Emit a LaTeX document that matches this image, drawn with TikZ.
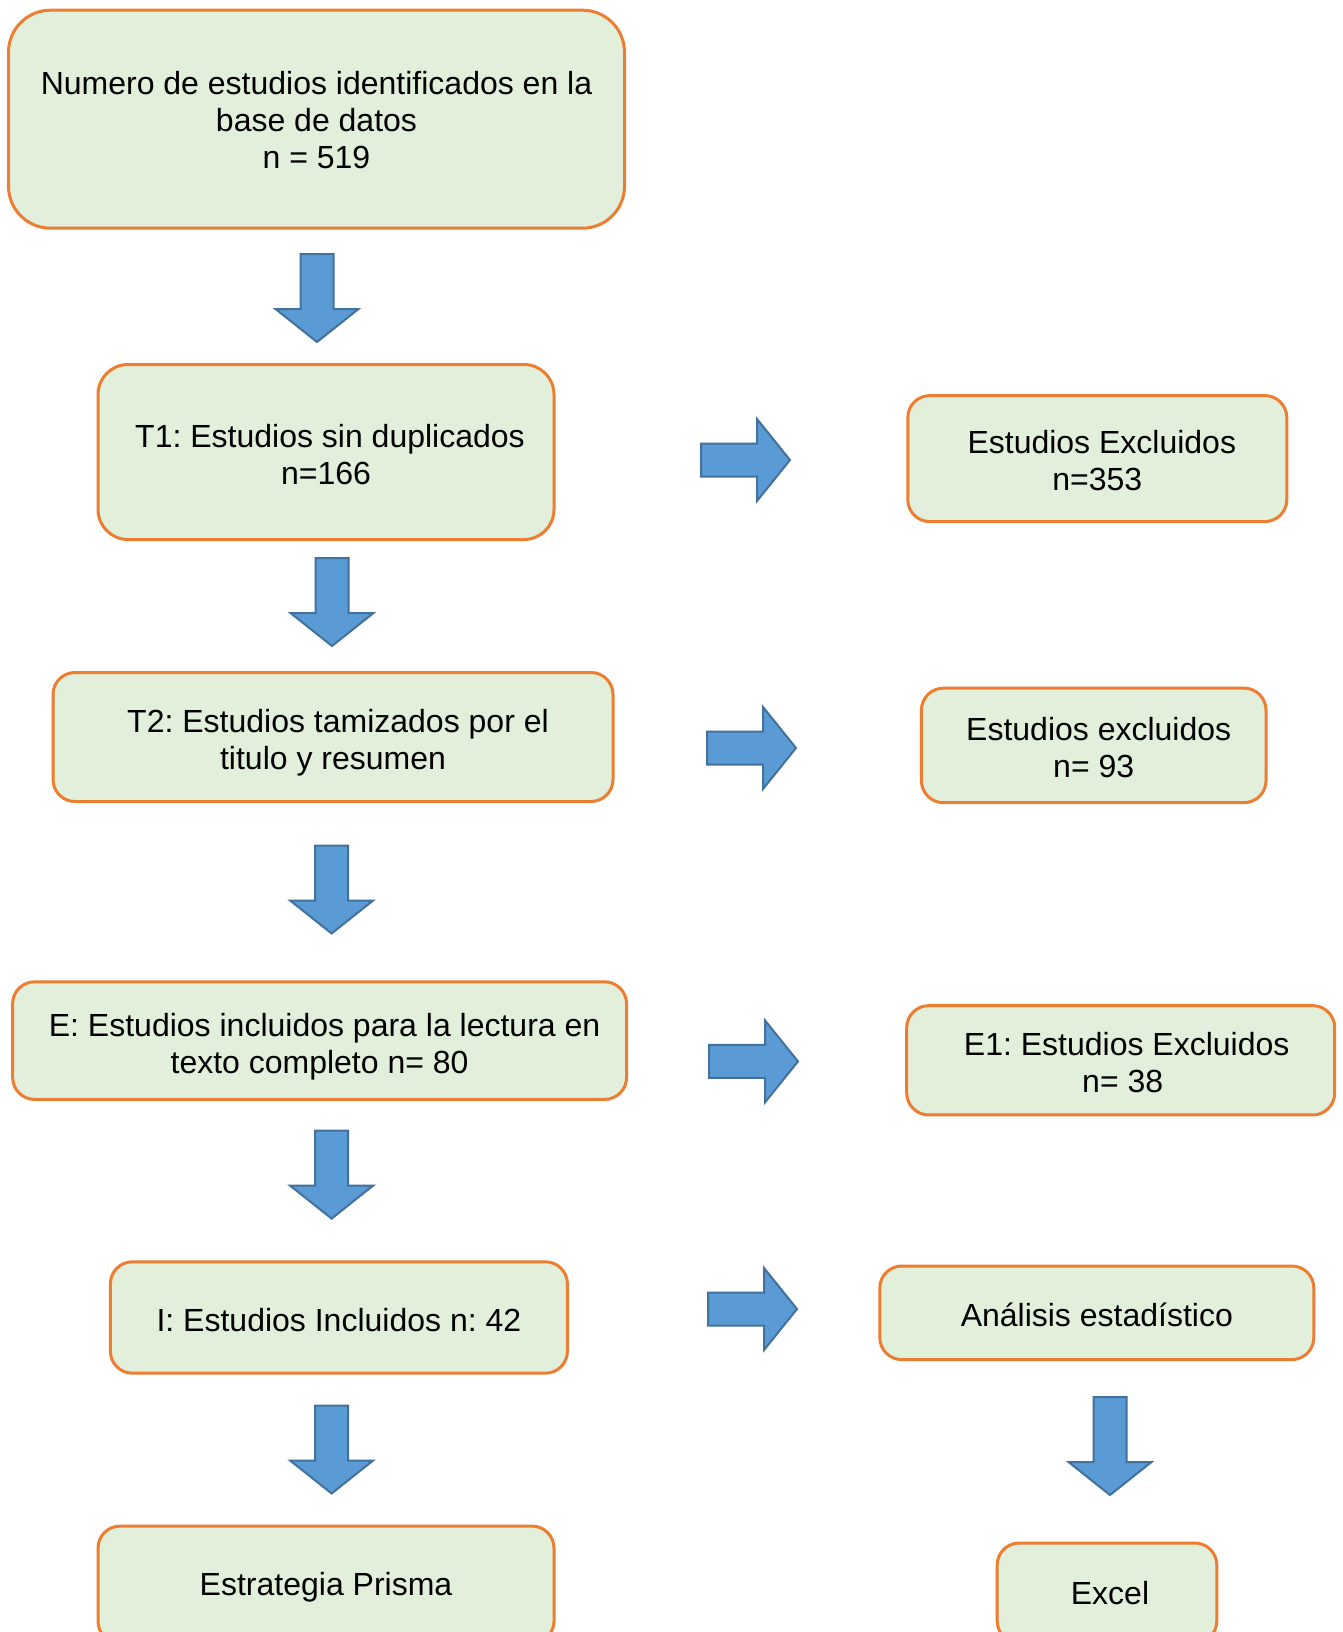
\documentclass[tikz,border=0pt]{standalone}
\usepackage{fontspec}
\setmainfont{Liberation Sans}
\frenchspacing
\definecolor{boxfill}{HTML}{E2EFDA}
\definecolor{boxline}{HTML}{ED7D31}
\definecolor{arrfill}{HTML}{5B9BD5}
\definecolor{arrline}{HTML}{41719C}
\tikzset{
  stagebox/.style={draw=boxline, fill=boxfill, line width=3pt, rounded corners=22pt,
    align=center, inner sep=0pt, font=\fontsize{32}{37}\selectfont},
  blockarrow/.style={draw=arrline, fill=arrfill, line width=2pt, line join=miter}
}
% #1 = height of top strut (controls vertical placement of the text)
\newcommand\boxtext[2]{\rule{0pt}{#1pt}#2\rule[-10pt]{0pt}{10pt}}
\newcommand\DArr[3]{% cx, top, height
  \draw[blockarrow] (#1-16.5,#2) -- (#1+16.5,#2) -- (#1+16.5,#2+#3-33) -- (#1+41.5,#2+#3-33)
    -- (#1,#2+#3) -- (#1-41.5,#2+#3-33) -- (#1-16.5,#2+#3-33) -- cycle;}
\newcommand\RArr[2]{% left, cy
  \draw[blockarrow] (#1,#2-16.5) -- (#1+56,#2-16.5) -- (#1+56,#2-41) -- (#1+89,#2)
    -- (#1+56,#2+41) -- (#1+56,#2+16.5) -- (#1,#2+16.5) -- cycle;}
\begin{document}
\begin{tikzpicture}[x=1pt,y=-1pt]
\useasboundingbox (0,0) rectangle (1343,1632);
\clip (0,0) rectangle (1343,1632);
\fill[white] (0,0) rectangle (1343,1632);

\node[stagebox, rounded corners=42pt, minimum width=616pt, minimum height=218pt] (top) at (316.5,119.2)
  {\boxtext{35.3}{Numero de estudios identificados en la\\base de datos\\n = 519}};
\node[stagebox, rounded corners=30pt, minimum width=456pt, minimum height=175pt] (t1) at (326,452)
  {\boxtext{38.6}{\hspace*{8pt}T1: Estudios sin duplicados\\n=166}};
\node[stagebox, minimum width=379pt, minimum height=126pt] (ex1) at (1097.3,458.6)
  {\boxtext{36.6}{\hspace*{9pt}Estudios Excluidos\\n=353}};
\node[stagebox, minimum width=560pt, minimum height=129pt] (t2) at (333,737)
  {\boxtext{38.2}{\hspace*{10pt}T2: Estudios tamizados por el\\titulo y resumen}};
\node[stagebox, minimum width=344.6pt, minimum height=114.5pt] (ex2) at (1093.7,745.4)
  {\boxtext{36.6}{\hspace*{10pt}Estudios excluidos\\n= 93}};
\node[stagebox, minimum width=614pt, minimum height=117.6pt] (e) at (319.6,1040.6)
  {\boxtext{38.2}{\hspace*{10pt}E: Estudios incluidos para la lectura en\\texto completo n= 80}};
\node[stagebox, minimum width=428pt, minimum height=109.3pt] (e1) at (1120.7,1060.3)
  {\boxtext{36.6}{\hspace*{12pt}E1: Estudios Excluidos\\\hspace*{4pt}n= 38}};
\node[stagebox, minimum width=457pt, minimum height=111.4pt] (inc) at (338.9,1317.5)
  {\boxtext{38.6}{I: Estudios Incluidos n: 42}};
\node[stagebox, minimum width=434pt, minimum height=93.6pt] (ana) at (1096.8,1312.8)
  {\boxtext{37.8}{Análisis estadístico}};
\node[stagebox, minimum width=456pt, minimum height=117pt] (pri) at (326,1584.6)
  {\boxtext{32.2}{Estrategia Prisma}};
\node[stagebox, minimum width=219.6pt, minimum height=100pt] (exc) at (1107,1593)
  {\boxtext{32.9}{\hspace*{6pt}Excel}};

% down arrows
\DArr{317}{254}{88}
\DArr{332}{558}{88}
\DArr{331.6}{845.5}{88}
\DArr{331.6}{1130.6}{88}
\DArr{331.6}{1405.5}{88}
\DArr{1110}{1397}{98}
% right arrows
\RArr{701}{460}
\RArr{707}{748}
\RArr{709}{1061.4}
\RArr{708}{1309}
\end{tikzpicture}
\end{document}
